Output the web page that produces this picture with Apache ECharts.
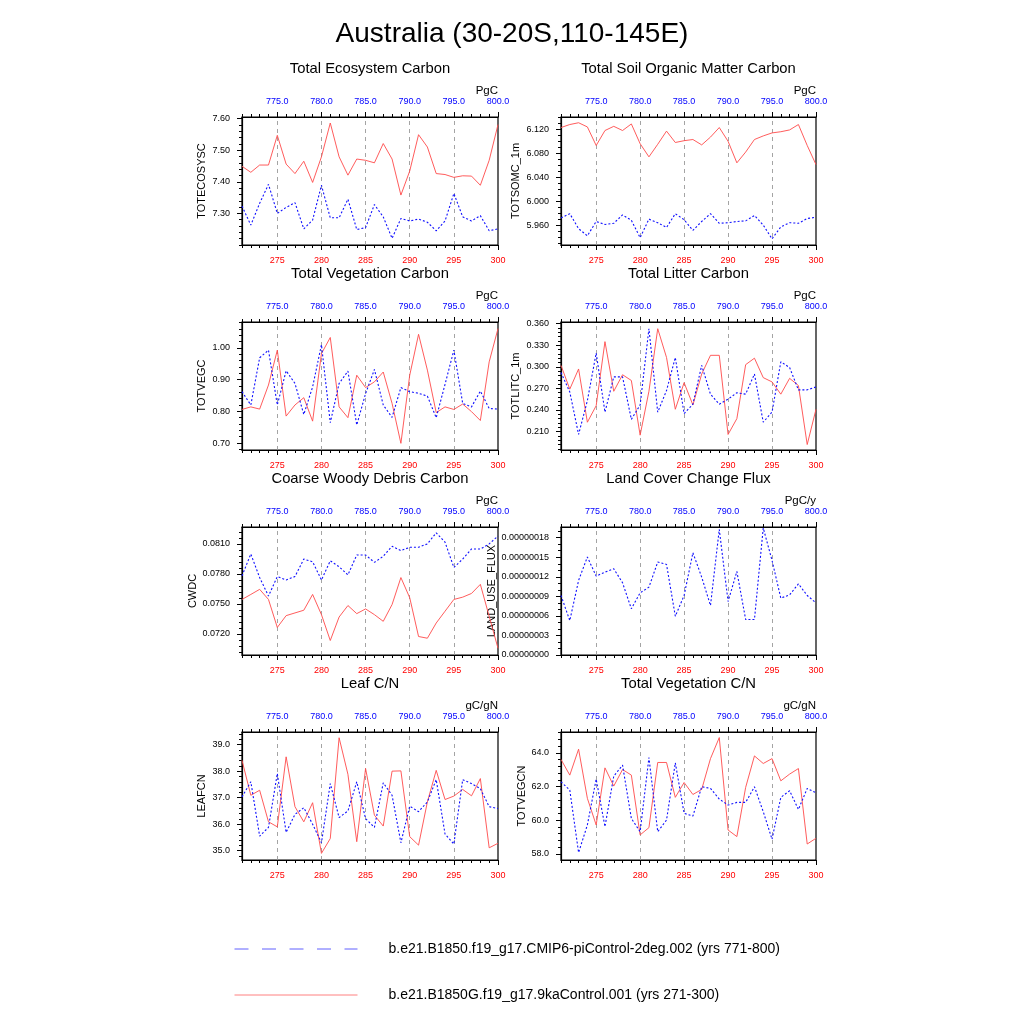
<!DOCTYPE html>
<html><head><meta charset="utf-8">
<script src="https://cdn.jsdelivr.net/npm/echarts@6/dist/echarts.min.js"></script>
<style>html,body{margin:0;padding:0;background:#fff}#c{width:1024px;height:1024px}</style>
</head><body><div id="c"></div>
<script>
const FONT = 'Liberation Sans, Arial, Helvetica, sans-serif';
const BLUE_NAME = 'b.e21.B1850.f19_g17.CMIP6-piControl-2deg.002 (yrs 771-800)';
const RED_NAME = 'b.e21.B1850G.f19_g17.9kaControl.001 (yrs 271-300)';
const mainTitle = 'Australia (30-20S,110-145E)';

const yearsA = [271,272,273,274,275,276,277,278,279,280,281,282,283,284,285,286,287,288,289,290,291,292,293,294,295,296,297,298,299,300];
const yearsB = [771,772,773,774,775,776,777,778,779,780,781,782,783,784,785,786,787,788,789,790,791,792,793,794,795,796,797,798,799,800];
const xLabelsA = [275,280,285,290,295,300];
const xLabelsB = [775,780,785,790,795,800];
const gridLinesB = [775,780,785,790,795];

// Total Ecosystem Carbon
const ecosysRed = [7.449,7.430,7.453,7.453,7.547,7.456,7.426,7.465,7.398,7.479,7.586,7.479,7.421,7.472,7.468,7.460,7.521,7.472,7.358,7.434,7.549,7.510,7.426,7.423,7.414,7.419,7.418,7.389,7.468,7.581];
const ecosysBlue = [7.323,7.263,7.332,7.392,7.300,7.319,7.334,7.251,7.279,7.389,7.286,7.286,7.345,7.249,7.255,7.328,7.289,7.221,7.284,7.276,7.282,7.272,7.245,7.276,7.363,7.289,7.276,7.293,7.245,7.251];
const ticksEcosys = [7.30,7.40,7.50,7.60];

// Total Soil Organic Matter Carbon
const soilRed = [6.123,6.128,6.131,6.124,6.093,6.118,6.125,6.118,6.129,6.096,6.074,6.095,6.117,6.098,6.101,6.103,6.094,6.107,6.123,6.100,6.064,6.082,6.103,6.109,6.114,6.116,6.119,6.128,6.093,6.061];
const soilBlue = [5.972,5.979,5.954,5.942,5.966,5.961,5.963,5.977,5.968,5.939,5.970,5.964,5.956,5.979,5.969,5.951,5.966,5.979,5.963,5.964,5.966,5.967,5.976,5.960,5.937,5.957,5.964,5.963,5.971,5.973];
const ticksSoil = [5.96,6.00,6.04,6.08,6.12];

// Total Vegetation Carbon
const vegRed = [0.806,0.814,0.807,0.883,0.993,0.785,0.820,0.843,0.769,0.982,1.033,0.814,0.780,0.914,0.875,0.893,0.924,0.825,0.699,0.914,1.043,0.930,0.796,0.814,0.806,0.823,0.799,0.771,0.956,1.061];
const vegBlue = [0.862,0.820,0.969,0.993,0.820,0.928,0.888,0.790,0.877,1.010,0.764,0.888,0.927,0.757,0.856,0.932,0.820,0.781,0.875,0.862,0.857,0.848,0.780,0.885,0.993,0.825,0.814,0.864,0.809,0.807];
const ticksVeg = [0.70,0.80,0.90,1.00];

// Total Litter Carbon
const litRed = [0.302,0.269,0.297,0.223,0.246,0.335,0.266,0.289,0.281,0.205,0.266,0.353,0.313,0.241,0.278,0.247,0.290,0.316,0.316,0.206,0.228,0.303,0.312,0.285,0.279,0.262,0.284,0.274,0.192,0.241];
const litBlue = [0.292,0.265,0.206,0.253,0.319,0.237,0.286,0.286,0.227,0.247,0.353,0.237,0.267,0.313,0.235,0.248,0.302,0.262,0.248,0.255,0.264,0.262,0.290,0.223,0.237,0.307,0.299,0.268,0.268,0.272];
const ticksLit = [0.210,0.240,0.270,0.300,0.330,0.360];

// Coarse Woody Debris Carbon
const cwdRed = [0.07544,0.07594,0.07645,0.07544,0.07264,0.07382,0.07409,0.07436,0.07594,0.07392,0.07133,0.07368,0.07483,0.07402,0.07449,0.07392,0.07325,0.07493,0.07763,0.07561,0.07173,0.07156,0.07308,0.07426,0.07544,0.07567,0.07604,0.07695,0.07375,0.07055];
const cwdBlue = [0.07780,0.07999,0.07763,0.07578,0.07773,0.07739,0.07773,0.07948,0.07921,0.07739,0.07931,0.07871,0.07790,0.07989,0.07989,0.07915,0.07975,0.08076,0.08033,0.08066,0.08066,0.08100,0.08211,0.08117,0.07864,0.07948,0.08049,0.08049,0.08100,0.08178];
const ticksCwd = [0.0720,0.0750,0.0780,0.0810];

// Land Cover Change Flux (blue only)
const lucBlue = [9.13e-8,5.28e-8,11.44e-8,15.03e-8,12.10e-8,12.72e-8,13.23e-8,11.08e-8,7.08e-8,9.54e-8,10.41e-8,14.26e-8,13.90e-8,5.95e-8,9.13e-8,15.69e-8,11.95e-8,7.59e-8,19.28e-8,8.21e-8,12.82e-8,5.44e-8,5.44e-8,19.49e-8,14.51e-8,8.72e-8,9.23e-8,10.92e-8,9.13e-8,8.00e-8];
const ticksLuc = [0,3e-8,6e-8,9e-8,12e-8,15e-8,18e-8];

// Leaf C/N
const leafRed = [38.41,37.09,37.28,36.09,35.90,38.54,36.66,36.09,36.81,34.90,35.46,39.26,37.88,35.34,38.10,36.34,35.93,38.00,38.01,35.53,35.21,36.84,38.03,36.93,37.06,37.31,37.07,37.72,35.11,35.28];
const leafBlue = [37.03,37.60,35.55,35.88,37.91,35.69,36.37,36.62,36.00,35.30,37.53,36.25,36.50,37.60,36.21,35.88,37.56,37.09,35.30,36.68,36.47,36.84,37.68,35.63,35.25,37.68,37.53,37.34,36.66,36.59];
const ticksLeaf = [35.0,36.0,37.0,38.0,39.0];

// Total Vegetation C/N
const vcnRed = [63.61,62.68,64.22,61.30,59.72,63.11,62.03,63.01,62.68,59.13,59.56,63.43,63.43,61.36,62.24,61.53,61.83,63.66,64.91,59.42,59.03,61.95,63.82,63.37,63.66,62.34,62.74,63.07,58.59,58.93];
const vcnBlue = [62.28,61.79,58.08,59.72,62.44,59.62,62.62,63.27,60.11,59.32,63.72,59.32,60.01,63.41,60.41,60.25,61.99,61.89,61.26,60.90,61.06,61.06,61.99,60.51,58.87,61.36,61.75,60.64,61.89,61.63];
const ticksVcn = [58.0,60.0,62.0,64.0];

const panels = [
  {title:'Total Ecosystem Carbon', yName:'TOTECOSYSC', unit:'PgC', red:ecosysRed, blue:ecosysBlue, ticks:ticksEcosys, dec:2, minor:0.02, min:7.2, max:7.605, nameGap:35},
  {title:'Total Soil Organic Matter Carbon', yName:'TOTSOMC_1m', unit:'PgC', red:soilRed, blue:soilBlue, ticks:ticksSoil, dec:3, minor:0.01, min:5.9267, max:6.1406, nameGap:40},
  {title:'Total Vegetation Carbon', yName:'TOTVEGC', unit:'PgC', red:vegRed, blue:vegBlue, ticks:ticksVeg, dec:2, minor:0.02, min:0.678, max:1.0818, nameGap:35},
  {title:'Total Litter Carbon', yName:'TOTLITC_1m', unit:'PgC', red:litRed, blue:litBlue, ticks:ticksLit, dec:3, minor:0.006, min:0.1844, max:0.3623, nameGap:40},
  {title:'Coarse Woody Debris Carbon', yName:'CWDC', unit:'PgC', red:cwdRed, blue:cwdBlue, ticks:ticksCwd, dec:4, minor:0.0006, min:0.06988, max:0.08269, nameGap:42},
  {title:'Land Cover Change Flux', yName:'LAND_USE_FLUX', unit:'PgC/y', red:null, blue:lucBlue, ticks:ticksLuc, dec:8, minor:1e-8, min:0, max:1.964e-7, nameGap:63},
  {title:'Leaf C/N', yName:'LEAFCN', unit:'gC/gN', red:leafRed, blue:leafBlue, ticks:ticksLeaf, dec:1, minor:0.2, min:34.65, max:39.476, nameGap:35},
  {title:'Total Vegetation C/N', yName:'TOTVEGCN', unit:'gC/gN', red:vcnRed, blue:vcnBlue, ticks:ticksVcn, dec:1, minor:0.4, min:57.64, max:65.24, nameGap:34}
];

const colX = [242, 561], colW = [256, 255];
const rowY = [117, 322, 527, 732], rowH = 128;

const grids = [], xAxes = [], yAxes = [], series = [];
const titles = [{text: mainTitle, left: 512, top: 20, padding: 0, textAlign: 'center', textStyle: {fontFamily: FONT, fontSize: 28, fontWeight: 'normal', color: '#000'}}];

function minors(min, max, step) {
  const out = [];
  const k0 = Math.ceil(min / step - 1e-6), k1 = Math.floor(max / step + 1e-6);
  for (let k = k0; k <= k1; k++) out.push(+(k * step).toPrecision(10));
  return out;
}

panels.forEach((p, i) => {
  const col = i % 2, row = Math.floor(i / 2);
  const L = colX[col], T = rowY[row], W = colW[col];
  grids.push({left: L, top: T, width: W, height: rowH, show: true, borderColor: '#000', borderWidth: 1.2, backgroundColor: 'transparent'});
  const xb = xAxes.length;
  const lineStyle = {color: '#000', width: 1.2};
  xAxes.push({gridIndex: i, type: 'value', min: 271, max: 300, position: 'bottom',
    axisLine: {show: true, onZero: false, lineStyle}, splitLine: {show: false},
    axisTick: {show: true, inside: false, length: 5, customValues: xLabelsA, lineStyle: {color: '#000'}},
    axisLabel: {show: true, customValues: xLabelsA, color: '#ff0000', fontSize: 9, fontFamily: FONT, margin: 11}});
  xAxes.push({gridIndex: i, type: 'value', min: 271, max: 300, position: 'bottom',
    axisLine: {show: false, onZero: false}, splitLine: {show: false},
    axisTick: {show: true, inside: false, length: 3, customValues: yearsA, lineStyle: {color: '#000'}},
    axisLabel: {show: false}});
  xAxes.push({gridIndex: i, type: 'value', min: 771, max: 800, position: 'top',
    axisLine: {show: true, onZero: false, lineStyle}, splitLine: {show: false},
    axisTick: {show: true, inside: false, length: 5, customValues: xLabelsB, lineStyle: {color: '#000'}},
    axisLabel: {show: true, customValues: xLabelsB, formatter: v => v.toFixed(1), color: '#0000ff', fontSize: 9, fontFamily: FONT, margin: 11}});
  xAxes.push({gridIndex: i, type: 'value', min: 771, max: 800, position: 'top',
    axisLine: {show: false, onZero: false}, splitLine: {show: false},
    axisTick: {show: true, inside: false, length: 3, customValues: yearsB, lineStyle: {color: '#000'}},
    axisLabel: {show: false}});
  const yb = yAxes.length;
  yAxes.push({gridIndex: i, type: 'value', min: p.min, max: p.max, position: 'left',
    axisLine: {show: true, onZero: false, lineStyle}, splitLine: {show: false},
    axisTick: {show: true, inside: false, length: 5, customValues: p.ticks, lineStyle: {color: '#000'}},
    axisLabel: {show: true, customValues: p.ticks, formatter: v => v.toFixed(p.dec), color: '#000', fontSize: 9, fontFamily: FONT, margin: 12},
    name: p.yName, nameLocation: 'middle', nameGap: p.nameGap, nameRotate: 90,
    nameTextStyle: {fontFamily: FONT, fontSize: 11, color: '#000'}});
  yAxes.push({gridIndex: i, type: 'value', min: p.min, max: p.max, position: 'left',
    axisLine: {show: false, onZero: false}, splitLine: {show: false},
    axisTick: {show: true, inside: false, length: 3, customValues: minors(p.min, p.max, p.minor), lineStyle: {color: '#000'}},
    axisLabel: {show: false}});
  if (p.red) {
    series.push({type: 'line', name: RED_NAME, xAxisIndex: xb, yAxisIndex: yb, symbol: 'none', silent: true, z: 3,
      data: yearsA.map((y, k) => [y, p.red[k]]),
      lineStyle: {color: '#ff4a4a', width: 0.9}, itemStyle: {color: '#ff4a4a'}});
  }
  series.push({type: 'line', name: BLUE_NAME, xAxisIndex: xb + 2, yAxisIndex: yb, symbol: 'none', silent: true, z: 4,
    data: yearsB.map((y, k) => [y, p.blue[k]]),
    lineStyle: {color: '#1010ff', width: 1.1, type: [2, 2]}, itemStyle: {color: '#1010ff'},
    markLine: {silent: true, symbol: 'none', label: {show: false}, z: 1,
      lineStyle: {color: '#9a9a9a', type: [4, 4], width: 0.9},
      data: gridLinesB.map(v => ({xAxis: v}))}});
  titles.push({text: p.title, left: L + W / 2, top: T - 56, padding: 0, textAlign: 'center',
    textStyle: {fontFamily: FONT, fontSize: 14.8, fontWeight: 'normal', color: '#000'}});
  titles.push({text: p.unit, left: L + W, top: T - 32, padding: 0, textAlign: 'right',
    textStyle: {fontFamily: FONT, fontSize: 11.5, fontWeight: 'normal', color: '#000'}});
});

const chart = echarts.init(document.getElementById('c'), null, {renderer: 'canvas'});
chart.setOption({
  animation: false,
  backgroundColor: '#fff',
  title: titles,
  grid: grids,
  xAxis: xAxes,
  yAxis: yAxes,
  series: series,
  legend: {
    orient: 'vertical', left: 234, top: 942, padding: 0, itemGap: 32,
    itemWidth: 123, itemHeight: 14, selectedMode: false,
    textStyle: {fontFamily: FONT, fontSize: 14, color: '#000', padding: [0, 0, 0, 26]},
    data: [
      {name: BLUE_NAME, itemStyle: {opacity: 0}, lineStyle: {color: '#6060ff', type: [14, 13.5], width: 1}},
      {name: RED_NAME, itemStyle: {opacity: 0}, lineStyle: {color: '#ff8080', type: 'solid', width: 1}}
    ]
  }
});
</script></body></html>
